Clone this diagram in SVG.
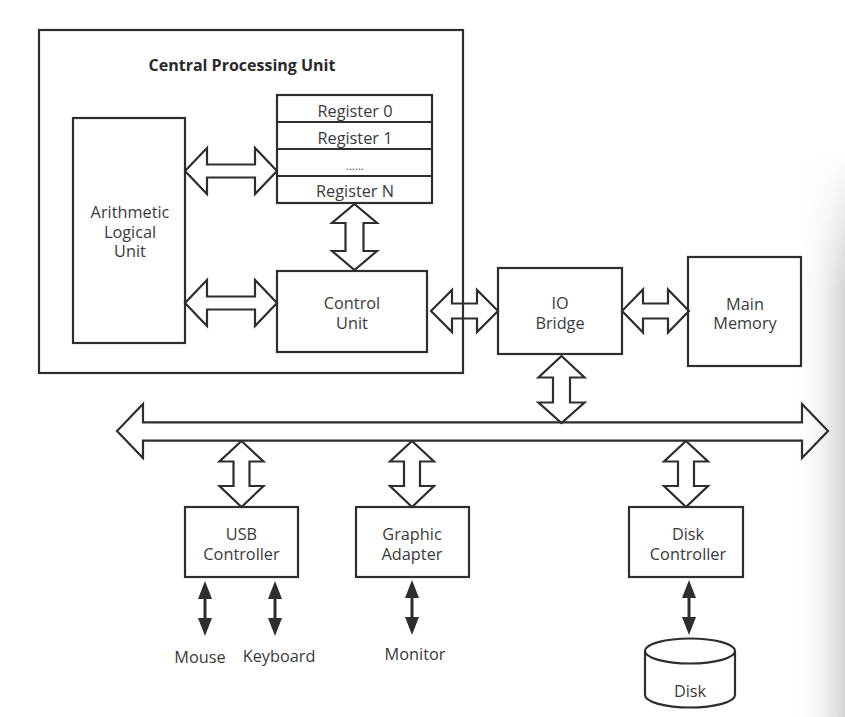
<svg xmlns="http://www.w3.org/2000/svg" width="845" height="717" viewBox="0 0 845 717">
<defs>
<style>
.box{fill:none;stroke:#2e2e2e;stroke-width:2.2}
.arr{fill:none;stroke:#2e2e2e;stroke-width:2.2;stroke-linejoin:miter}
.t{font-family:"Open Sans","Noto Sans","Liberation Sans",sans-serif;font-size:16.3px;fill:#3a3a3a;text-anchor:middle}
.title{font-family:"Open Sans","Noto Sans","Liberation Sans",sans-serif;font-size:16px;font-weight:bold;fill:#2a2a2a;text-anchor:middle}
.sl{stroke:#2e2e2e;stroke-width:3;fill:none}
</style>
<marker id="tri" markerUnits="userSpaceOnUse" markerWidth="20" markerHeight="16" viewBox="0 -8 19 16" refX="0" refY="0" orient="auto-start-reverse">
<path d="M0,-7 L18,0 L0,7 z" fill="#2e2e2e"/>
</marker>
<linearGradient id="shadeH" x1="0" y1="0" x2="1" y2="0">
<stop offset="0" stop-color="#ffffff" stop-opacity="0"/>
<stop offset="1" stop-color="#d4d4d4" stop-opacity="1"/>
</linearGradient>
<linearGradient id="fadeV" x1="0" y1="0" x2="0" y2="1">
<stop offset="0" stop-color="#000"/>
<stop offset="0.25" stop-color="#fff"/>
<stop offset="1" stop-color="#fff"/>
</linearGradient>
<mask id="shadeMask" maskUnits="userSpaceOnUse" x="790" y="150" width="55" height="567">
<rect x="790" y="150" width="55" height="567" fill="url(#fadeV)"/>
</mask>
</defs>
<rect x="0" y="0" width="845" height="717" fill="#ffffff"/>
<rect x="792" y="150" width="53" height="567" fill="url(#shadeH)" mask="url(#shadeMask)"/>

<g id="cpu">
<rect class="box" x="39" y="30" width="424" height="343"/>
<text class="title" x="242" y="71">Central Processing Unit</text>
</g>
<g id="alu">
<rect class="box" x="73" y="118" width="112" height="225"/>
<text class="t" x="130" y="218">Arithmetic</text>
<text class="t" x="130" y="237.5">Logical</text>
<text class="t" x="130" y="257">Unit</text>
</g>
<g id="registers">
<rect class="box" x="277" y="95" width="155" height="108"/>
<line class="box" x1="277" y1="122" x2="432" y2="122"/>
<line class="box" x1="277" y1="149" x2="432" y2="149"/>
<line class="box" x1="277" y1="176" x2="432" y2="176"/>
<text class="t" x="355" y="116.5">Register 0</text>
<text class="t" x="355" y="143.5">Register 1</text>
<text class="t" x="355" y="170" style="font-size:11px">......</text>
<text class="t" x="355" y="197">Register N</text>
</g>
<g id="control">
<rect class="box" x="277" y="271" width="150" height="81"/>
<text class="t" x="352" y="309">Control</text>
<text class="t" x="352" y="328.5">Unit</text>
</g>
<g id="iobridge">
<rect class="box" x="498" y="268" width="124" height="86"/>
<text class="t" x="560" y="308.5">IO</text>
<text class="t" x="560" y="328.5">Bridge</text>
</g>
<g id="memory">
<rect class="box" x="688" y="257" width="113" height="109"/>
<text class="t" x="745" y="309.5">Main</text>
<text class="t" x="745" y="329">Memory</text>
</g>
<g id="usb">
<rect class="box" x="185" y="507" width="113" height="70"/>
<text class="t" x="241.5" y="540">USB</text>
<text class="t" x="241.5" y="560">Controller</text>
</g>
<g id="graphic">
<rect class="box" x="356" y="507" width="113" height="70"/>
<text class="t" x="412" y="540">Graphic</text>
<text class="t" x="412" y="560">Adapter</text>
</g>
<g id="diskctrl">
<rect class="box" x="629" y="507" width="114" height="70"/>
<text class="t" x="688" y="540">Disk</text>
<text class="t" x="688" y="560">Controller</text>
</g>
<g id="disk">
<path class="box" d="M645,651 A45,12.5 0 0 1 735,651 A45,12.5 0 0 1 645,651 Z M645,651 L645,695 A45,12.5 0 0 0 735,695 L735,651"/>
<text class="t" x="690" y="697">Disk</text>
</g>
<g id="mouse"><text class="t" x="200" y="662.5">Mouse</text></g>
<g id="keyboard"><text class="t" x="279" y="662">Keyboard</text></g>
<g id="monitor"><text class="t" x="415" y="660">Monitor</text></g>

<g id="connectors">
<polygon class="arr" points="185,171 207,148 207,164.5 255,164.5 255,148 277,171 255,194 255,177.5 207,177.5 207,194"/>
<polygon class="arr" points="185,303 207,280 207,296.5 255,296.5 255,280 277,303 255,326 255,309.5 207,309.5 207,326"/>
<polygon class="arr" points="354.5,204 377,223 363.5,223 363.5,251 377,251 354.5,270 332,251 345.5,251 345.5,223 332,223"/>
<polygon class="arr" points="431,311 452,290 452,303.5 477,303.5 477,290 498,311 477,332 477,318.5 452,318.5 452,332"/>
<polygon class="arr" points="622,311 643,289.5 643,303.5 668,303.5 668,289.5 689,311 668,332.5 668,318.5 643,318.5 643,332.5"/>
<polygon class="arr" points="561.5,356 584.5,377.5 570,377.5 570,402.5 584.5,402.5 561.5,423 538.5,402.5 553,402.5 553,377.5 538.5,377.5"/>
<polygon class="arr" points="117,431 143,404 143,422.3 802,422.3 802,404 828,431 802,458 802,440.7 143,440.7 143,458"/>
<polygon class="arr" points="241.5,441 263.5,461.5 249.5,461.5 249.5,486 263.5,486 241.5,507 219.5,486 233.5,486 233.5,461.5 219.5,461.5"/>
<polygon class="arr" points="412,441 434,461.5 420,461.5 420,486 434,486 412,507 390,486 404,486 404,461.5 390,461.5"/>
<polygon class="arr" points="686,441 708,461.5 694,461.5 694,486 708,486 686,507 664,486 678,486 678,461.5 664,461.5"/>
<line class="sl" x1="205" y1="599" x2="205" y2="618" marker-start="url(#tri)" marker-end="url(#tri)"/>
<line class="sl" x1="275" y1="599" x2="275" y2="618" marker-start="url(#tri)" marker-end="url(#tri)"/>
<line class="sl" x1="412" y1="598" x2="412" y2="617" marker-start="url(#tri)" marker-end="url(#tri)"/>
<line class="sl" x1="689" y1="598" x2="689" y2="617" marker-start="url(#tri)" marker-end="url(#tri)"/>
</g>
</svg>
